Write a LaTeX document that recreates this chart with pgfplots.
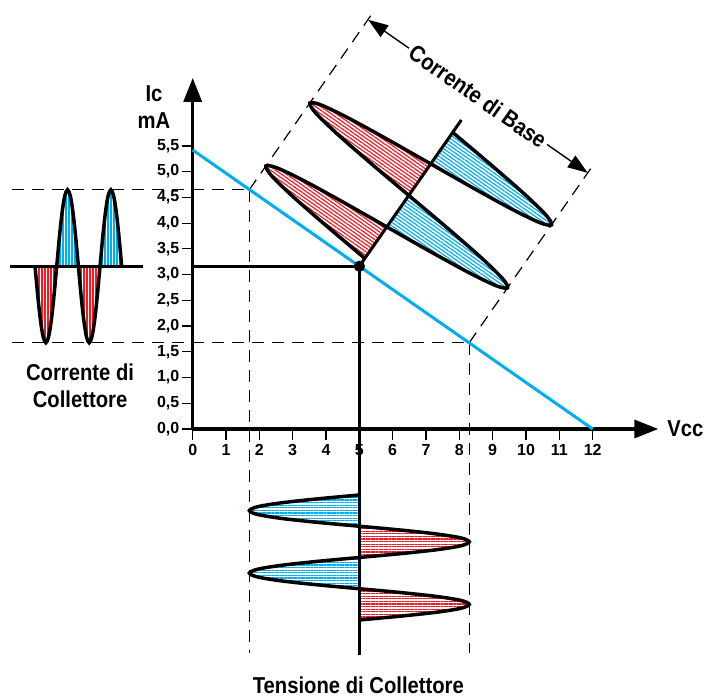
\documentclass[border=0pt]{standalone}
\usepackage{pgfplots}
\pgfplotsset{compat=1.18}
\usetikzlibrary{arrows.meta,patterns.meta}
\usepackage{fontspec}
\setmainfont{Liberation Sans}
\newfontfamily\cond{Liberation Sans}[FakeStretch=0.88]
\newcommand\bigf{\cond\bfseries\fontsize{11.5}{13.6}\selectfont}
\definecolor{cy}{RGB}{0,174,239}
\definecolor{rd}{RGB}{237,28,36}
\tikzset{
  redD/.style={draw=none, smooth, pattern={Lines[angle=-35,distance=1.5pt,line width=0.6pt]}, pattern color=rd},
  bluD/.style={draw=none, smooth, pattern={Lines[angle=-35,distance=1.5pt,line width=0.6pt]}, pattern color=cy},
  redV/.style={draw=none, smooth, pattern={Lines[angle=90,distance=1.5pt,line width=0.6pt]}, pattern color=rd},
  bluV/.style={draw=none, smooth, pattern={Lines[angle=90,distance=1.5pt,line width=0.6pt]}, pattern color=cy},
  redH/.style={draw=none, smooth, pattern={Lines[angle=0,distance=1.3pt,line width=0.6pt]}, pattern color=rd},
  bluH/.style={draw=none, smooth, pattern={Lines[angle=0,distance=1.3pt,line width=0.6pt]}, pattern color=cy},
  dsh/.style={black, line width=0.6pt, dash pattern=on 6pt off 4pt},
  wave/.style={black, line width=1.75pt, smooth},
}
\begin{document}
\begin{tikzpicture}
\begin{axis}[
  at={(0,0)}, anchor=south west,
  x=16.665pt, y=25.735pt,
  xmin=0, xmax=13.97, ymin=0, ymax=6.82,
  axis lines=left,
  axis line style={line width=1.75pt, -{Triangle[length=12pt,width=9pt]}},
  clip=false,
  xtick={0,1,2,3,4,5,6,7,8,9,10,11,12},
  xticklabels={0,1,2,3,4,5,6,7,8,9,10,11,12},
  ytick={0,0.5,1,1.5,2,2.5,3,3.5,4,4.5,5,5.5},
  yticklabels={{0,0},{0,5},{1,0},{1,5},{2,0},{2,5},{3,0},{3,5},{4,0},{4,5},{5,0},{5,5}},
  tick align=outside,
  major tick length=5.5pt,
  tick style={black, line width=0.6pt},
  ticklabel style={font=\bfseries\fontsize{8}{9}\selectfont},
  yticklabel style={inner sep=1pt},
  xticklabel style={inner sep=2pt},
  /pgf/number format/assume math mode=true,
]
% ---------- hatched fills: base current lobes ----------
\addplot[redD] coordinates {(5.1647,3.3149) (3.9856,3.9611) (2.9986,4.5206) (2.3663,4.9197) (2.1978,5.1095) (2.5311,5.0726) (3.3280,4.8264) (4.4798,4.4199) (5.8237,3.9266)} -- cycle;
\addplot[bluD] coordinates {(5.8237,3.9266) (7.1675,3.4334) (8.3193,3.0269) (9.1163,2.7806) (9.4496,2.7438) (9.2810,2.9336) (8.6488,3.3327) (7.6618,3.8922) (6.4826,4.5384)} -- cycle;
\addplot[redD] coordinates {(6.4826,4.5384) (5.3035,5.1845) (4.3165,5.7440) (3.6842,6.1431) (3.5157,6.3329) (3.8490,6.2961) (4.6459,6.0498) (5.7977,5.6433) (7.1416,5.1501)} -- cycle;
\addplot[bluD] coordinates {(7.1416,5.1501) (8.4854,4.6568) (9.6372,4.2503) (10.4342,4.0041) (10.7674,3.9672) (10.5989,4.1570) (9.9667,4.5561) (8.9796,5.1156) (7.8005,5.7618)} -- cycle;
% ---------- hatched fills: collector current ----------
\addplot[redV] coordinates {(-4.73,3.162) (-4.64875,2.594) (-4.5675,2.112) (-4.48625,1.790) (-4.405,1.677) (-4.32375,1.790) (-4.2425,2.112) (-4.16125,2.594) (-4.08,3.162)} -- cycle;
\addplot[bluV] coordinates {(-4.08,3.162) (-3.99875,3.730) (-3.9175,4.212) (-3.83625,4.534) (-3.755,4.647) (-3.67375,4.534) (-3.5925,4.212) (-3.51125,3.730) (-3.43,3.162)} -- cycle;
\addplot[redV] coordinates {(-3.43,3.162) (-3.34875,2.594) (-3.2675,2.112) (-3.18625,1.790) (-3.105,1.677) (-3.02375,1.790) (-2.9425,2.112) (-2.86125,2.594) (-2.78,3.162)} -- cycle;
\addplot[bluV] coordinates {(-2.78,3.162) (-2.69875,3.730) (-2.6175,4.212) (-2.53625,4.534) (-2.455,4.647) (-2.37375,4.534) (-2.2925,4.212) (-2.21125,3.730) (-2.13,3.162)} -- cycle;
% ---------- hatched fills: collector voltage ----------
\addplot[bluH] coordinates {(5,-1.282) (3.737,-1.3579) (2.667,-1.4338) (1.951,-1.5096) (1.7,-1.5855) (1.951,-1.6614) (2.667,-1.7373) (3.737,-1.8131) (5,-1.889)} -- cycle;
\addplot[redH] coordinates {(5,-1.889) (6.263,-1.9649) (7.333,-2.0408) (8.049,-2.1166) (8.3,-2.1925) (8.049,-2.2684) (7.333,-2.3443) (6.263,-2.4201) (5,-2.496)} -- cycle;
\addplot[bluH] coordinates {(5,-2.496) (3.737,-2.5719) (2.667,-2.6478) (1.951,-2.7236) (1.7,-2.7995) (1.951,-2.8754) (2.667,-2.9513) (3.737,-3.0271) (5,-3.103)} -- cycle;
\addplot[redH] coordinates {(5,-3.103) (6.263,-3.1789) (7.333,-3.2548) (8.049,-3.3306) (8.3,-3.4065) (8.049,-3.4824) (7.333,-3.5583) (6.263,-3.6341) (5,-3.710)} -- cycle;
% ---------- dashed guide lines ----------
\addplot[dsh] coordinates {(-5.42,4.65) (1.7,4.65)};
\addplot[dsh] coordinates {(-5.42,1.68) (8.3,1.68)};
\addplot[dsh] coordinates {(1.7,4.65) (1.7,-4.35)};
\addplot[dsh] coordinates {(8.3,1.68) (8.3,-4.35)};
\addplot[dsh] coordinates {(1.7,4.65) (5.355,8.043)};
\addplot[dsh] coordinates {(8.3,1.68) (12.017,5.13)};
% ---------- load line ----------
\addplot[cy, line width=1.5pt] coordinates {(0,5.42) (12,0)};
% ---------- working point lines and time axes ----------
\addplot[black, line width=1.3pt] coordinates {(0,3.162) (5,3.162)};
\addplot[black, line width=1.3pt] coordinates {(5,3.162) (5,-4.39)};
\addplot[black, line width=1.5pt] coordinates {(5,3.162) (8.061,6.004)};
\addplot[black, line width=1.4pt] coordinates {(-5.48,3.162) (-1.49,3.162)};
% ---------- wave outlines ----------
\addplot[wave] coordinates {(5.1647,3.3149) (3.9856,3.9611) (2.9986,4.5206) (2.3663,4.9197) (2.1978,5.1095) (2.5311,5.0726) (3.3280,4.8264) (4.4798,4.4199) (5.8237,3.9266) (7.1675,3.4334) (8.3193,3.0269) (9.1163,2.7806) (9.4496,2.7438) (9.2810,2.9336) (8.6488,3.3327) (7.6618,3.8922) (6.4826,4.5384) (5.3035,5.1845) (4.3165,5.7440) (3.6842,6.1431) (3.5157,6.3329) (3.8490,6.2961) (4.6459,6.0498) (5.7977,5.6433) (7.1416,5.1501) (8.4854,4.6568) (9.6372,4.2503) (10.4342,4.0041) (10.7674,3.9672) (10.5989,4.1570) (9.9667,4.5561) (8.9796,5.1156) (7.8005,5.7618)};
\addplot[wave] coordinates {(-4.73,3.162) (-4.64875,2.594) (-4.5675,2.112) (-4.48625,1.790) (-4.405,1.677) (-4.32375,1.790) (-4.2425,2.112) (-4.16125,2.594) (-4.08,3.162) (-3.99875,3.730) (-3.9175,4.212) (-3.83625,4.534) (-3.755,4.647) (-3.67375,4.534) (-3.5925,4.212) (-3.51125,3.730) (-3.43,3.162) (-3.34875,2.594) (-3.2675,2.112) (-3.18625,1.790) (-3.105,1.677) (-3.02375,1.790) (-2.9425,2.112) (-2.86125,2.594) (-2.78,3.162) (-2.69875,3.730) (-2.6175,4.212) (-2.53625,4.534) (-2.455,4.647) (-2.37375,4.534) (-2.2925,4.212) (-2.21125,3.730) (-2.13,3.162)};
\addplot[wave] coordinates {(5,-1.282) (3.737,-1.3579) (2.667,-1.4338) (1.951,-1.5096) (1.7,-1.5855) (1.951,-1.6614) (2.667,-1.7373) (3.737,-1.8131) (5,-1.889) (6.263,-1.9649) (7.333,-2.0408) (8.049,-2.1166) (8.3,-2.1925) (8.049,-2.2684) (7.333,-2.3443) (6.263,-2.4201) (5,-2.496) (3.737,-2.5719) (2.667,-2.6478) (1.951,-2.7236) (1.7,-2.7995) (1.951,-2.8754) (2.667,-2.9513) (3.737,-3.0271) (5,-3.103) (6.263,-3.1789) (7.333,-3.2548) (8.049,-3.3306) (8.3,-3.4065) (8.049,-3.4824) (7.333,-3.5583) (6.263,-3.6341) (5,-3.710)};
% ---------- working point ----------
\addplot[only marks, mark=*, mark size=2.6pt, black] coordinates {(5,3.162)};
% ---------- base current arrow ----------
\addplot[black, line width=0.7pt, {Triangle[length=10pt,width=7pt]}-{Triangle[length=10pt,width=7pt]}] coordinates {(5.266,7.95) (11.852,4.977)}
  node[pos=0.5, sloped, fill=white, inner sep=1.5pt, font=\bigf] {Corrente di Base};
% ---------- labels ----------
\node[font=\bigf, align=center] at (axis cs:-1.16,6.26) {Ic\\mA};
\node[font=\bigf, anchor=west, inner sep=0pt] at (axis cs:14.23,0) {Vcc};
\node[font=\bigf, align=center] at (axis cs:-3.38,0.835) {Corrente di\\Collettore};
\node[font=\bigf] at (axis cs:4.97,-4.97) {Tensione di Collettore};
\end{axis}
\pgfresetboundingbox
\path (-96.35pt,-133pt) rectangle (256.15pt,214.5pt);
\end{tikzpicture}
\end{document}
